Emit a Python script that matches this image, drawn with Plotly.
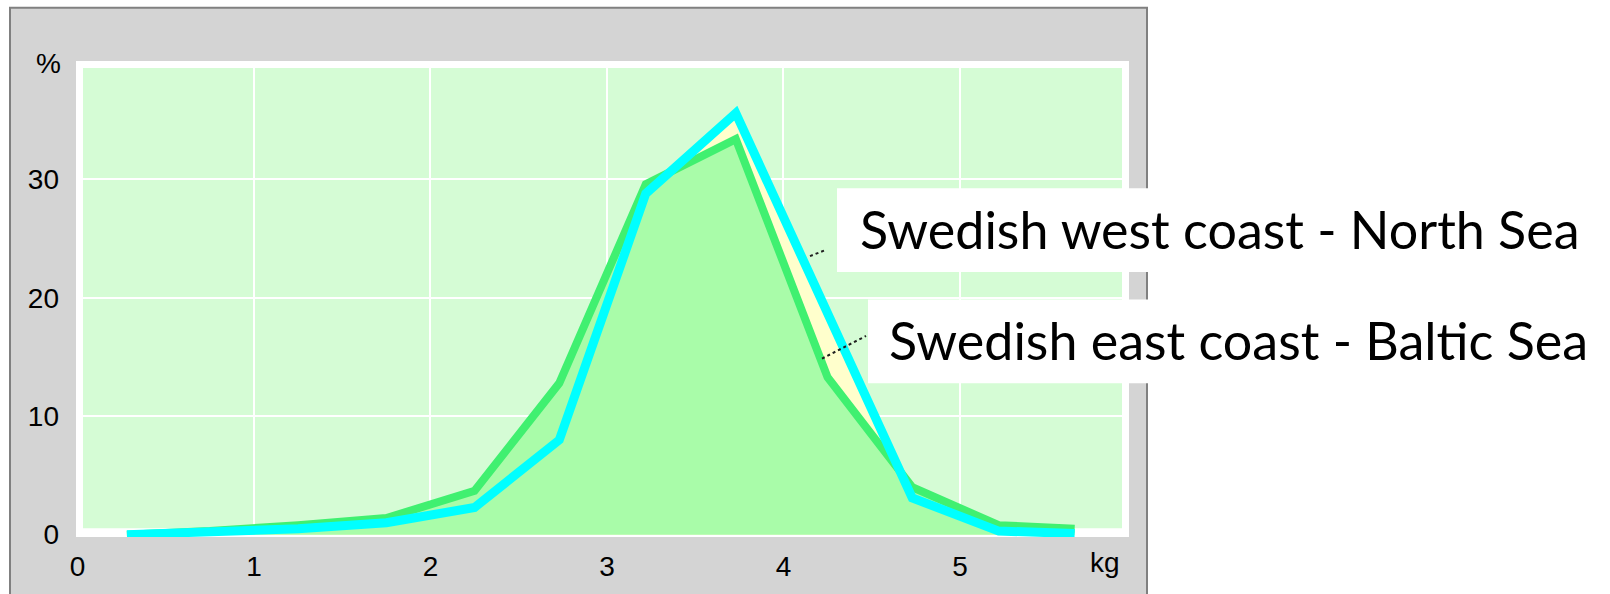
import plotly.graph_objects as go

# ---- data ----
weight_kg = [0.28, 0.75, 1.25, 1.75, 2.25, 2.73, 3.22, 3.73, 4.25, 4.73, 5.22, 5.65]
west_coast_pct = [0.0, 0.2, 0.5, 1.0, 2.3, 8.0, 28.8, 35.6, 18.5, 3.1, 0.3, 0.1]   # North Sea (cyan)
east_coast_pct = [0.0, 0.3, 0.8, 1.4, 3.7, 12.8, 29.6, 33.4, 13.3, 4.0, 0.8, 0.5]  # Baltic Sea (green)
x_ticks = [0, 1, 2, 3, 4, 5]
y_ticks = [0, 10, 20, 30]
label_west = "Swedish west coast - North Sea"
label_east = "Swedish east coast - Baltic Sea"

# ---- layout geometry (pixels) ----
W, H = 1610, 594
PL, PR, PT, PB = 76, 1129, 61, 544   # plot area = white frame
pw, ph = PR - PL, PB - PT


def px(x):
    return (x - PL) / pw


def py(y):
    return (PB - y) / ph


CYAN = "#00ffff"
GREEN_LINE = "#40f070"
GREEN_FILL = "#a9fca9"
YELLOW_FILL = "#ffffcc"
BG_GREEN = "#d5fcd5"
TICK_FONT = dict(family="Liberation Sans", size=28, color="#000000")

fig = go.Figure()

fig.add_trace(go.Scatter(x=weight_kg, y=west_coast_pct, mode="lines", fill="tozeroy",
                         fillcolor=YELLOW_FILL, line=dict(width=0), hoverinfo="skip",
                         showlegend=False))
fig.add_trace(go.Scatter(x=weight_kg, y=east_coast_pct, mode="lines", fill="tozeroy",
                         fillcolor=GREEN_FILL, line=dict(width=0), hoverinfo="skip",
                         showlegend=False))
fig.add_trace(go.Scatter(x=weight_kg, y=east_coast_pct, mode="lines", name=label_east,
                         line=dict(color=GREEN_LINE, width=8), showlegend=False))
fig.add_trace(go.Scatter(x=weight_kg, y=west_coast_pct, mode="lines", name=label_west,
                         line=dict(color=CYAN, width=9), showlegend=False))

shapes = [
    # grey outer panel
    dict(type="rect", xref="paper", yref="paper", x0=px(10), x1=px(1147), y0=py(640), y1=py(7),
         fillcolor="#d4d4d4", line=dict(color="#808080", width=2), layer="below"),
    # white frame inside panel
    dict(type="rect", xref="paper", yref="paper", x0=0, x1=1, y0=0, y1=1,
         fillcolor="#ffffff", line=dict(width=0), layer="below"),
    # light green plotting field
    dict(type="rect", xref="x domain", yref="y domain", x0=px(83), x1=px(1122), y0=py(535), y1=py(68),
         fillcolor=BG_GREEN, line=dict(width=0), layer="below"),
    # label boxes
    dict(type="rect", xref="paper", yref="paper", x0=px(837), x1=px(1612), y0=py(275), y1=py(190),
         fillcolor="#ffffff", line=dict(width=0), layer="above"),
    dict(type="rect", xref="paper", yref="paper", x0=px(868), x1=px(1612), y0=py(388), y1=py(303),
         fillcolor="#ffffff", line=dict(width=0), layer="above"),
    # leader lines
    dict(type="line", xref="paper", yref="paper", x0=px(810), y0=py(259), x1=px(825), y1=py(253),
         line=dict(color="#202020", width=2, dash="dot"), layer="above"),
    dict(type="line", xref="paper", yref="paper", x0=px(822), y0=py(363), x1=px(866), y1=py(340),
         line=dict(color="#202020", width=2, dash="dot"), layer="above"),
]

annotations = [
    dict(text=label_west, xref="paper", yref="paper", x=px(858), y=py(231), xanchor="left",
         yanchor="middle", showarrow=False, font=dict(family="Lato", size=52, color="#000000")),
    dict(text=label_east, xref="paper", yref="paper", x=px(887), y=py(344), xanchor="left",
         yanchor="middle", showarrow=False, font=dict(family="Lato", size=52, color="#000000")),
    dict(text="%", xref="paper", yref="paper", x=px(48), y=py(64), xanchor="center",
         yanchor="middle", showarrow=False, font=TICK_FONT),
    dict(text="kg", xref="paper", yref="paper", x=px(1105), y=py(570), xanchor="center",
         yanchor="middle", showarrow=False, font=TICK_FONT),
]

fig.update_layout(
    width=W, height=H,
    margin=dict(l=PL, r=W - PR, t=PT, b=H - PB, pad=0),
    paper_bgcolor="#ffffff",
    plot_bgcolor="rgba(0,0,0,0)",
    shapes=shapes,
    annotations=annotations,
    xaxis=dict(range=[-0.0085, 5.958], tickvals=x_ticks, showgrid=True, gridcolor="#ffffff",
               gridwidth=2, zeroline=False, showline=False, ticks="", ticklabelstandoff=10,
               tickfont=TICK_FONT),
    yaxis=dict(range=[-0.2, 40], tickvals=y_ticks, showgrid=True, gridcolor="#ffffff",
               gridwidth=2, zeroline=False, showline=False, ticks="", ticklabelstandoff=16,
               tickfont=TICK_FONT),
)

fig.write_html("out.html", config={"displayModeBar": False},
               post_script="document.body.style.margin='0px';")
